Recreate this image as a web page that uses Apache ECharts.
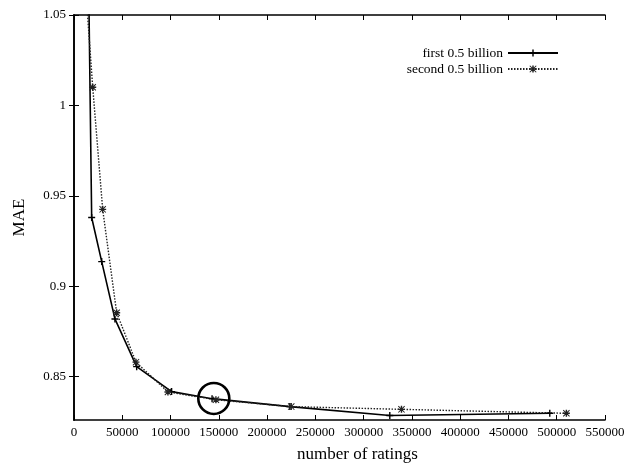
<!DOCTYPE html>
<html>
<head>
<meta charset="utf-8">
<script src="https://cdn.jsdelivr.net/npm/echarts@6/dist/echarts.min.js"></script>
<style>
  html, body { margin: 0; padding: 0; background: #fff; }
  #chart { width: 628px; height: 466px; }
</style>
</head>
<body>
<div id="chart"></div>
<script>
// number of ratings / MAE
var firstX = [12000, 18300, 28700, 42400, 64900, 101100, 143000, 223600, 327100, 492800];
var firstY = [1.2, 0.938, 0.9136, 0.8819, 0.8555, 0.8417, 0.8378, 0.8334, 0.8285, 0.8297];
var secondX = [10000, 19400, 29700, 44200, 64200, 97300, 147000, 225000, 339200, 510000];
var secondY = [1.08, 1.010, 0.9425, 0.8853, 0.858, 0.8415, 0.8372, 0.8334, 0.8319, 0.8297];
var yTicks = [0.85, 0.9, 0.95, 1, 1.05];
var seriesNames = ["first 0.5 billion", "second 0.5 billion"];
var circleAt = [144800, 0.8379];

var plusPath = "path://M4,0H6V4H10V6H6V10H4V6H0V4H4Z";
var starPath = "path://M4,0H6V4H10V6H6V10H4V6H0V4H4Z M0,1L1,0L10,9L9,10Z M9,0L10,1L1,10L0,9Z";
var serif = "'Liberation Serif', 'DejaVu Serif', serif";

function pairs(xs, ys) {
  return xs.map(function (x, i) { return [x, ys[i]]; });
}

var chart = echarts.init(document.getElementById("chart"));
var xBase = {
  type: "value",
  min: 0,
  max: 550000,
  interval: 50000,
  splitLine: { show: false },
  axisLine: { show: true, lineStyle: { color: "#000", width: 1.6 } },
  axisTick: { show: true, inside: true, length: 5, lineStyle: { color: "#000" } },
};
var yBase = {
  type: "value",
  min: 0.826,
  max: 1.05,
  splitLine: { show: false },
  axisLine: { show: true, lineStyle: { color: "#000", width: 1.6 } },
  axisTick: { show: true, inside: true, length: 5, customValues: yTicks, lineStyle: { color: "#000" } },
};

var option = {
  backgroundColor: "#fff",
  animation: false,
  grid: { left: 74, right: 23, top: 15, bottom: 46, outerBoundsMode: "none" },
  legend: {
    orient: "vertical",
    right: 64,
    top: 41,
    align: "right",
    itemWidth: 50,
    itemHeight: 9,
    itemGap: 2,
    textStyle: { fontFamily: serif, fontSize: 13.5, color: "#000" },
    data: seriesNames,
  },
  xAxis: [
    Object.assign({}, xBase, {
      position: "bottom",
      name: "number of ratings",
      nameLocation: "middle",
      nameGap: 26,
      nameTextStyle: { fontFamily: serif, fontSize: 17, color: "#000", padding: [0, 0, 0, 36] },
      axisLabel: {
        fontFamily: serif,
        fontSize: 13,
        color: "#000",
        margin: 6,
        formatter: function (v) { return String(v); },
      },
    }),
    Object.assign({}, xBase, { position: "top", axisLabel: { show: false } }),
  ],
  yAxis: [
    Object.assign({}, yBase, {
      position: "left",
      name: "MAE",
      nameLocation: "middle",
      nameGap: 46,
      nameTextStyle: { fontFamily: serif, fontSize: 17, color: "#000" },
      axisLabel: {
        fontFamily: serif,
        fontSize: 13,
        color: "#000",
        margin: 8,
        customValues: yTicks,
      },
    }),
    Object.assign({}, yBase, { position: "right", axisLabel: { show: false } }),
  ],
  series: [
    {
      name: seriesNames[0],
      type: "line",
      data: pairs(firstX, firstY),
      symbol: plusPath,
      symbolSize: 7,
      showAllSymbol: true,
      clip: true,
      itemStyle: { color: "#000" },
      lineStyle: { color: "#000", width: 1.6 },
      markPoint: {
        symbol: "circle",
        symbolSize: 31,
        label: { show: false },
        itemStyle: { color: "rgba(0,0,0,0)", borderColor: "#000", borderWidth: 2.6 },
        data: [{ coord: circleAt }],
      },
    },
    {
      name: seriesNames[1],
      type: "line",
      data: pairs(secondX, secondY),
      symbol: starPath,
      symbolSize: 7,
      showAllSymbol: true,
      clip: true,
      itemStyle: { color: "#222" },
      lineStyle: { color: "#222", width: 1.4, type: [1.5, 1.5] },
    },
  ],
};
chart.setOption(option);
</script>
</body>
</html>
